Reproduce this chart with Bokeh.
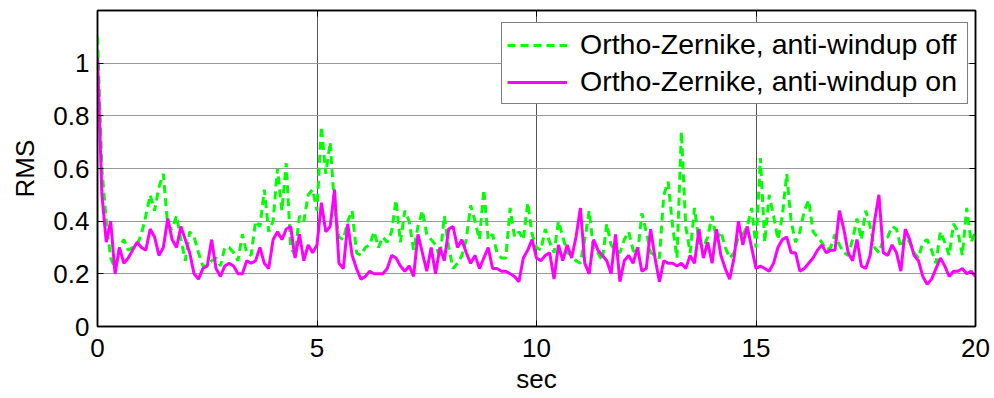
import numpy as np
from bokeh.plotting import figure
from bokeh.models import Range1d, LinearAxis, FixedTicker, Legend, LegendItem
from bokeh.embed import file_html
from bokeh.resources import INLINE

# RMS residual sampled every 0.1 s over 0..20 s
sample_step = 0.1

rms_windup_off = [
    1.10, 0.60, 0.40, 0.26, 0.22, 0.30, 0.33, 0.29, 0.30, 0.31,
    0.35, 0.42, 0.50, 0.44, 0.53, 0.58, 0.38, 0.37, 0.42, 0.33,
    0.25, 0.36, 0.34, 0.28, 0.23, 0.23, 0.25, 0.26, 0.23, 0.30,
    0.30, 0.28, 0.25, 0.35,
    0.28, 0.27, 0.40, 0.38, 0.52, 0.36, 0.40, 0.60, 0.44, 0.62,
    0.30, 0.27, 0.42, 0.40, 0.50, 0.52, 0.44, 0.76, 0.58, 0.70,
    0.45, 0.34, 0.33, 0.40, 0.44, 0.28, 0.27, 0.30, 0.31, 0.36,
    0.30, 0.34, 0.32,
    0.36, 0.48, 0.32, 0.44, 0.40, 0.29, 0.38, 0.44, 0.35, 0.33,
    0.31, 0.26, 0.42, 0.30, 0.22, 0.24, 0.27, 0.33, 0.46, 0.40,
    0.33, 0.52, 0.33, 0.35, 0.28, 0.26, 0.26, 0.45, 0.34, 0.36,
    0.33, 0.47, 0.35,
    0.30, 0.29, 0.37, 0.32, 0.28, 0.40, 0.34, 0.28, 0.27, 0.25,
    0.24, 0.33, 0.44, 0.29, 0.28, 0.25, 0.39, 0.31, 0.29, 0.28,
    0.33, 0.36, 0.29, 0.27, 0.43, 0.36, 0.28, 0.27, 0.26, 0.50,
    0.55, 0.38, 0.26,
    0.74, 0.38, 0.28, 0.45, 0.32, 0.30, 0.34, 0.42, 0.33, 0.36,
    0.30, 0.26, 0.28, 0.34, 0.35, 0.38, 0.45, 0.30, 0.64, 0.32,
    0.50, 0.42, 0.33, 0.42, 0.58, 0.40, 0.32, 0.36, 0.44, 0.48,
    0.36, 0.34, 0.32,
    0.29, 0.30, 0.35, 0.31, 0.28, 0.27, 0.33, 0.41, 0.33, 0.44,
    0.38, 0.30, 0.28, 0.33, 0.34, 0.38, 0.37, 0.30, 0.34, 0.32,
    0.28, 0.26, 0.32, 0.33, 0.29, 0.24, 0.36, 0.32, 0.27, 0.39,
    0.36, 0.27, 0.45, 0.32, 0.36,
]

rms_windup_on = [
    1.02, 0.50, 0.32, 0.40, 0.20, 0.30, 0.24, 0.26, 0.29, 0.32,
    0.30, 0.29, 0.37, 0.34, 0.27, 0.30, 0.41, 0.33, 0.30, 0.38,
    0.33, 0.28, 0.20, 0.18, 0.22, 0.23, 0.33, 0.22, 0.19, 0.23,
    0.24, 0.23, 0.20, 0.20,
    0.25, 0.24, 0.25, 0.30, 0.24, 0.22, 0.33, 0.36, 0.33, 0.37,
    0.38, 0.26, 0.35, 0.25, 0.31, 0.28, 0.31, 0.47, 0.36, 0.38,
    0.52, 0.24, 0.22, 0.39, 0.27, 0.22, 0.18, 0.19, 0.21, 0.20,
    0.20, 0.20, 0.22,
    0.27, 0.26, 0.23, 0.21, 0.23, 0.19, 0.35, 0.28, 0.21, 0.30,
    0.20, 0.30, 0.25, 0.37, 0.38, 0.30, 0.33, 0.28, 0.24, 0.27,
    0.22, 0.26, 0.30, 0.22, 0.22, 0.21, 0.21, 0.20, 0.19, 0.17,
    0.26, 0.29, 0.33,
    0.26, 0.25, 0.27, 0.28, 0.18, 0.31, 0.25, 0.31, 0.26, 0.34,
    0.45, 0.24, 0.20, 0.33, 0.29, 0.27, 0.25, 0.20, 0.35, 0.17,
    0.25, 0.27, 0.24, 0.30, 0.21, 0.22, 0.37, 0.26, 0.17, 0.25,
    0.24, 0.24, 0.23,
    0.24, 0.22, 0.27, 0.24, 0.37, 0.26, 0.32, 0.24, 0.37, 0.27,
    0.22, 0.18, 0.26, 0.40, 0.31, 0.38, 0.30, 0.22, 0.23, 0.22,
    0.21, 0.24, 0.30, 0.33, 0.34, 0.28, 0.28, 0.21, 0.22, 0.24,
    0.26, 0.29, 0.31,
    0.28, 0.29, 0.29, 0.44, 0.37, 0.28, 0.25, 0.33, 0.23, 0.22,
    0.27, 0.40, 0.50, 0.28, 0.27, 0.31, 0.28, 0.21, 0.37, 0.33,
    0.27, 0.25, 0.19, 0.16, 0.18, 0.22, 0.26, 0.23, 0.19, 0.21,
    0.21, 0.22, 0.20, 0.21, 0.19,
]

x_ticks = [0, 5, 10, 15, 20]
y_ticks = [0, 0.2, 0.4, 0.6, 0.8, 1.0]
y_tick_labels = ["0", "0.2", "0.4", "0.6", "0.8", "1"]

series_labels = ["Ortho-Zernike, anti-windup off", "Ortho-Zernike, anti-windup on"]

time_s = np.round(np.arange(len(rms_windup_off)) * sample_step, 2)

FONT = "Liberation Sans"

p = figure(
    width=994, height=398,
    output_backend="svg", toolbar_location=None,
    x_range=Range1d(0, 20), y_range=Range1d(0, 1.2),
    min_border_left=97, min_border_right=19,
    min_border_top=10, min_border_bottom=72,
    background_fill_color="white", border_fill_color="white",
)
p.outline_line_color = "black"
p.outline_line_width = 1.5

# main axes
p.xaxis.ticker = FixedTicker(ticks=x_ticks)
p.yaxis.ticker = FixedTicker(ticks=y_ticks)
p.yaxis.major_label_overrides = {t: s for t, s in zip(y_ticks, y_tick_labels)}
p.xaxis.axis_label = "sec"
p.yaxis.axis_label = "RMS"

for ax in (p.xaxis[0], p.yaxis[0]):
    ax.axis_line_color = "black"
    ax.axis_line_width = 1.5
    ax.major_tick_in = 6
    ax.major_tick_out = 0
    ax.minor_tick_in = 0
    ax.minor_tick_out = 0
    ax.major_tick_line_color = "black"
    ax.major_label_text_font = FONT
    ax.major_label_text_font_size = "26px"
    ax.major_label_text_color = "black"
    ax.axis_label_text_font = FONT
    ax.axis_label_text_font_size = "26px"
    ax.axis_label_text_font_style = "normal"
    ax.axis_label_text_color = "black"

p.xaxis.major_label_standoff = 12
p.yaxis.major_label_standoff = 8
p.xaxis.axis_label_standoff = 4
p.yaxis.axis_label_standoff = 10

# inward tick marks on the opposite sides of the box (no labels there)
for loc, ticks in (("right", y_ticks), ("above", x_ticks)):
    ax = LinearAxis(ticker=FixedTicker(ticks=ticks))
    ax.major_label_text_font_size = "1px"
    ax.major_label_text_color = None
    ax.major_label_standoff = 0
    ax.major_tick_in = 6
    ax.major_tick_out = 0
    ax.minor_tick_in = 0
    ax.minor_tick_out = 0
    ax.axis_line_color = "black"
    ax.axis_line_width = 1.5
    p.add_layout(ax, loc)

p.xgrid.grid_line_color = "#555555"
p.xgrid.grid_line_width = 1
p.ygrid.grid_line_color = "#999999"
p.ygrid.grid_line_width = 1

r_off = p.line(time_s, rms_windup_off, line_color="#00ff00", line_width=3,
               line_dash="8 5")
r_on = p.line(time_s, rms_windup_on, line_color="#ff00ff", line_width=3)

legend = Legend(
    items=[LegendItem(label=series_labels[0], renderers=[r_off]),
           LegendItem(label=series_labels[1], renderers=[r_on])],
    location=(404, 222),
    label_text_font=FONT, label_text_font_size="28.5px", label_text_color="black",
    glyph_width=60, glyph_height=20, label_height=20, label_width=382,
    label_standoff=13, padding=5, spacing=4, margin=0,
    border_line_color="black", border_line_width=1.5,
    background_fill_color="white", background_fill_alpha=1.0,
)
p.add_layout(legend)

open("out.html", "w").write(file_html(p, INLINE))
